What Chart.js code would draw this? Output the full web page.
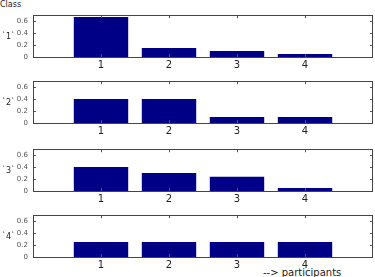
<!DOCTYPE html>
<html>
<head>
<meta charset="utf-8">
<script src="https://cdn.jsdelivr.net/npm/chart.js@4/dist/chart.umd.min.js"></script>
<style>
  html, body { margin: 0; padding: 0; background: #fff; }
  body { width: 375px; height: 277px; position: relative; overflow: hidden; font-family: "DejaVu Sans", sans-serif; }
  .panel { position: absolute; left: 0; width: 375px; }
  .lbl { position: absolute; font-size: 8px; color: #222; white-space: nowrap; }
</style>
</head>
<body>
<div class="lbl" style="left:0px; top:0px; font-size:8px;">Class</div>
<div class="lbl" id="xlabel" style="left:263px; top:267px; font-size:10px;">--&gt; participants</div>

<script>
// ---- data ----
const categories = [1, 2, 3, 4];
const classNames = ["`1`", "`2`", "`3`", "`4`"];
const class1 = [0.67, 0.15, 0.10, 0.05];
const class2 = [0.40, 0.40, 0.10, 0.10];
const class3 = [0.40, 0.30, 0.24, 0.05];
const class4 = [0.25, 0.25, 0.25, 0.25];
const yTicks = [0, 0.2, 0.4, 0.6];

const series = [class1, class2, class3, class4];
const panelTops = [10, 76, 144, 210];
const plotH = 47;
const padTop = 4, xAxisH = 16, yAxisW = 33;

const frame = {
  id: 'frame',
  afterDatasetsDraw(chart) {
    const { ctx, chartArea: a, scales: { x, y } } = chart;
    ctx.save();
    ctx.strokeStyle = '#555';
    ctx.lineWidth = 1;
    ctx.beginPath();
    const L = 3;
    categories.forEach(v => {
      const px = Math.round(x.getPixelForValue(v)) + 0.5;
      ctx.moveTo(px, a.top); ctx.lineTo(px, a.top + L);
      ctx.moveTo(px, a.bottom); ctx.lineTo(px, a.bottom - L);
    });
    yTicks.forEach(v => {
      const py = Math.round(y.getPixelForValue(v)) + 0.5;
      ctx.moveTo(a.left, py); ctx.lineTo(a.left + L, py);
      ctx.moveTo(a.right, py); ctx.lineTo(a.right - L, py);
    });
    ctx.stroke();
    ctx.strokeStyle = '#444';
    ctx.strokeRect(Math.round(a.left) + 0.5, Math.round(a.top) + 0.5,
                   Math.round(a.right - a.left) - 1, Math.round(a.bottom - a.top));
    ctx.restore();
  }
};

series.forEach((vals, i) => {
  const div = document.createElement('div');
  div.className = 'panel';
  div.style.top = (panelTops[i] - padTop) + 'px';
  div.style.height = (padTop + plotH + xAxisH) + 'px';
  const cv = document.createElement('canvas');
  div.appendChild(cv);
  document.body.appendChild(div);

  const lab = document.createElement('div');
  lab.className = 'lbl';
  lab.textContent = classNames[i];
  lab.style.left = '2px';
  lab.style.top = (panelTops[i] + 22) + 'px';
  document.body.appendChild(lab);

  new Chart(cv, {
    type: 'bar',
    data: {
      datasets: [{
        data: categories.map((c, k) => ({ x: c, y: vals[k] })),
        backgroundColor: '#000086',
        borderWidth: 0,
        categoryPercentage: 1,
        barPercentage: 0.8
      }]
    },
    options: {
      responsive: true,
      maintainAspectRatio: false,
      animation: false,
      events: [],
      layout: { padding: { top: padTop, right: 2, left: 0, bottom: 0 } },
      plugins: { legend: { display: false }, tooltip: { enabled: false } },
      scales: {
        x: {
          type: 'linear', min: 0, max: 5, offset: false,
          grid: { display: false, drawTicks: false, offset: false },
          border: { display: false },
          afterBuildTicks: s => { s.ticks = categories.map(v => ({ value: v })); },
          afterFit: s => { s.height = xAxisH; },
          ticks: { font: { family: 'DejaVu Sans', size: 10 }, color: '#222', padding: 2, maxRotation: 0 }
        },
        y: {
          min: 0, max: 0.7,
          grid: { display: false, drawTicks: false },
          border: { display: false },
          afterBuildTicks: s => { s.ticks = yTicks.map(v => ({ value: v })); },
          afterFit: s => { s.width = yAxisW; },
          ticks: { font: { family: 'DejaVu Sans', size: 7 }, color: '#555', padding: 5,
                   callback: v => String(v) }
        }
      }
    },
    plugins: [frame]
  });
});
</script>
</body>
</html>
